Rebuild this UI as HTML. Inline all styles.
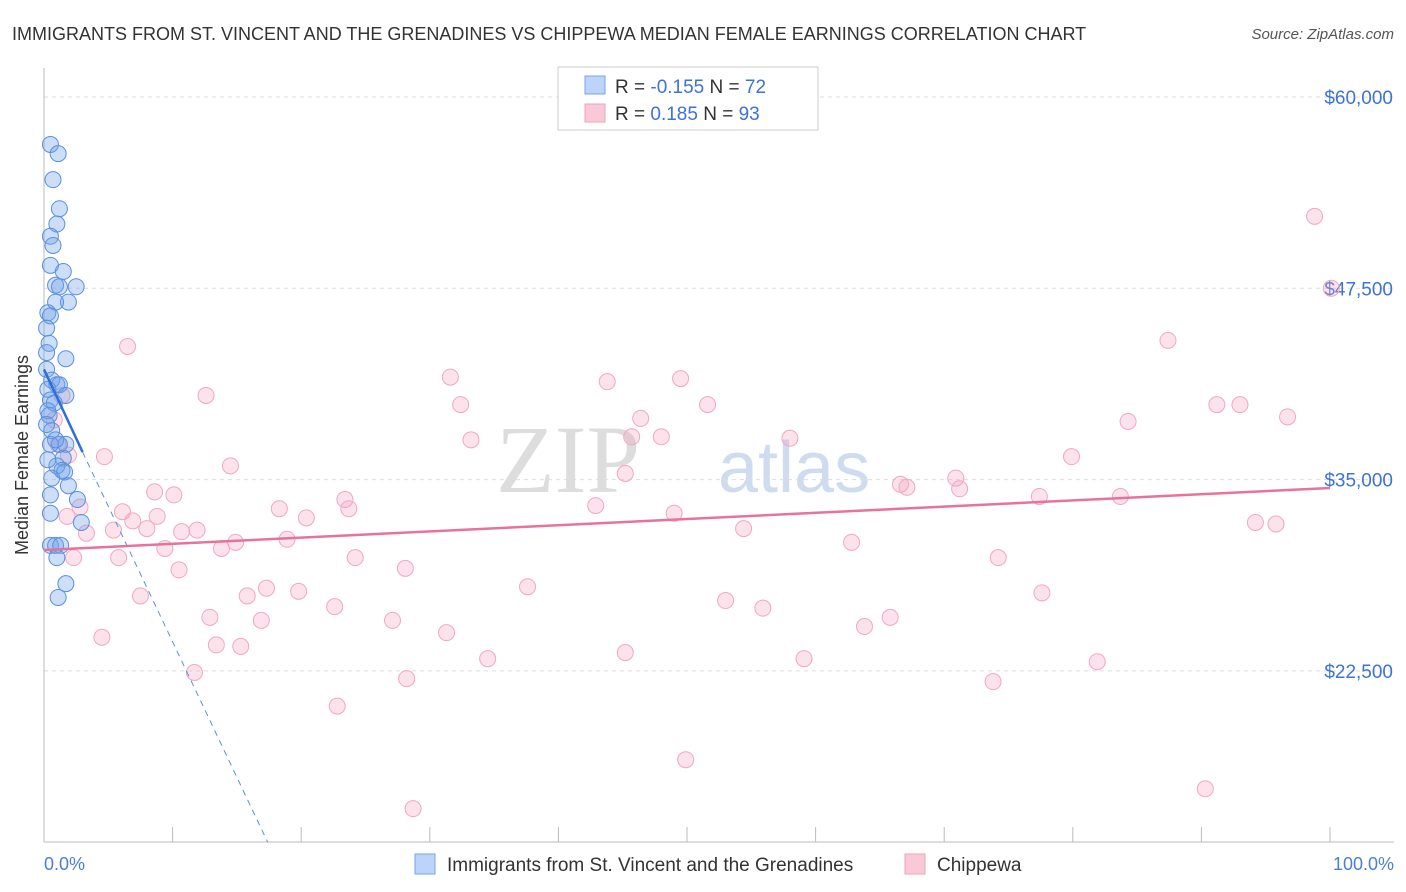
<!DOCTYPE html>
<html><head><meta charset="utf-8"><style>
body{margin:0;background:#fff;font-family:"Liberation Sans",sans-serif;}
svg{display:block}
</style></head><body>
<svg width="1406" height="892" viewBox="0 0 1406 892">
<text x="12" y="40" font-size="18" fill="#333">IMMIGRANTS FROM ST. VINCENT AND THE GRENADINES VS CHIPPEWA MEDIAN FEMALE EARNINGS CORRELATION CHART</text>
<text x="1394" y="39" font-size="15" fill="#555" font-style="italic" text-anchor="end">Source: ZipAtlas.com</text>
<text x="640" y="492" font-size="96" fill="#ddd" font-family="Liberation Serif,serif" text-anchor="end">ZIP</text>
<text x="718" y="492" font-size="72" fill="#cfdcef">atlas</text>
<g id="grid"></g>
<line x1="44" y1="68" x2="44" y2="842" stroke="#bbb"/>
<line x1="44" y1="842" x2="1394" y2="842" stroke="#bbb"/>
<g id="xticks"></g>
<text x="28" y="455" font-size="18" fill="#333" text-anchor="middle" transform="rotate(-90 28 455)">Median Female Earnings</text>
<text x="44" y="870" font-size="18" fill="#4a7fd6">0.0%</text>
<text x="1394" y="870" font-size="18" fill="#4a7fd6" text-anchor="end">100.0%</text>
<g id="pink"></g><g id="blue"></g><g id="trends"></g>
<g>
<rect x="558" y="67" width="260" height="63" fill="#fff" stroke="#ccc"/>
<rect x="585" y="76" width="20" height="18" fill="#bcd4f7" stroke="#7aa5e8"/>
<rect x="585" y="104" width="20" height="18" fill="#f9c9d8" stroke="#f0a0bb"/>
<text x="615" y="93" font-size="19" fill="#333">R = <tspan fill="#3b73d6">-0.155</tspan>   N = <tspan fill="#3b73d6">72</tspan></text>
<text x="615" y="120" font-size="19" fill="#333">R =  <tspan fill="#3b73d6"> 0.185</tspan>   N = <tspan fill="#3b73d6">93</tspan></text>
</g>
<g>
<rect x="415" y="854" width="20" height="20" fill="#bcd4f7" stroke="#7aa5e8"/>
<text x="447" y="871" font-size="19" fill="#333">Immigrants from St. Vincent and the Grenadines</text>
<rect x="905" y="854" width="20" height="20" fill="#f9c9d8" stroke="#f0a0bb"/>
<text x="937" y="871" font-size="19" fill="#333">Chippewa</text>
</g>
</svg>
<script>
const yTicks=[60000,47500,35000,22500];
const yTickLabels=["$60,000","$47,500","$35,000","$22,500"];
const xTicks=[0,10,20,30,40,50,60,70,80,90,100];
const blueX=[0.5,1.1,0.7,1.2,1.0,0.5,0.7,0.5,1.5,0.9,1.2,2.5,1.9,0.9,0.3,0.5,0.2,0.4,0.2,1.7,0.2,0.6,1.0,1.2,0.3,1.7,0.5,0.8,0.3,0.4,1.2,1.7,0.5,1.5,1.0,1.4,1.6,1.9,0.6,2.6,0.5,0.5,2.9,0.5,0.9,1.3,1.0,1.7,1.1,0.3,0.6,0.9,0.2];
const blueY=[56900,56300,54600,52700,51700,50900,50300,49000,48600,47700,47600,47600,46600,46600,45900,45700,44900,43900,43300,42900,42200,41500,41200,41200,40900,40500,40200,40000,39500,39200,37300,37300,37300,36400,35900,35600,35500,34600,35100,33700,34000,32800,32200,30700,30700,30700,29900,28200,27300,36300,38200,37600,38600];
const pinkX=[6.5,12.6,4.7,14.5,8.6,10.1,2.8,1.8,6.1,3.3,5.4,6.9,8.0,8.8,10.7,11.9,9.4,13.8,14.9,18.3,20.4,18.9,23.4,23.7,24.2,28.1,5.8,2.3,10.5,7.5,12.9,15.8,17.3,16.9,19.8,22.6,27.1,4.5,11.7,13.4,15.3,22.8,28.2,28.7,31.3,34.5,31.6,32.4,33.2,37.6,42.9,43.8,45.2,46.4,45.7,48.0,49.0,49.5,51.6,54.4,58.0,53.0,55.9,45.2,49.9,59.1,62.8,63.8,65.8,66.6,67.1,70.9,71.2,74.2,73.8,77.4,77.6,79.9,81.9,83.7,84.3,87.4,90.3,91.2,93.0,94.2,95.8,96.7,98.8,100.1,0.8,1.1,1.4,1.9];
const pinkY=[43700,40500,36500,35900,34200,34000,33200,32600,32900,31500,31700,32300,31800,32600,31600,31700,30500,30500,30900,33100,32500,31100,33700,33100,29900,29200,29900,29900,29100,27400,26000,27400,27900,25800,27700,26700,25800,24700,22400,24200,24100,20200,22000,13500,25000,23300,41700,39900,37600,28000,33300,41400,35400,39000,37800,37800,32800,41600,39900,31800,37700,27100,26600,23700,16700,23300,30900,25400,26000,34700,34500,35100,34400,29900,21800,33900,27600,36500,23100,33900,38800,44100,14800,39900,39900,32200,32100,39100,52200,47500,38900,37300,40500,36600];
const blueTrendX=[0,3.0];const blueTrendY=[42200,36800];
const blueDashX=[3.0,17.4];const blueDashY=[36800,11300];
const pinkTrendX=[0,100];const pinkTrendY=[30400,34450];
const NS="http://www.w3.org/2000/svg";
const xs=p=>44+p*12.86, ys=v=>97+(60000-v)/65.34;
function mk(t,a,parent){const e=document.createElementNS(NS,t);for(const k in a)e.setAttribute(k,a[k]);document.getElementById(parent).appendChild(e);return e;}
yTicks.forEach((v,i)=>{
 const l=mk('line',{x1:44,x2:1394,y1:ys(v),y2:ys(v),stroke:'#ddd','stroke-dasharray':'4,4'},'grid');
 
 
 const t=mk('text',{x:1393,y:ys(v)+7,'font-size':19,fill:'#3b73d6','text-anchor':'end'},'grid');
 t.textContent=yTickLabels[i];
 
 
});
xTicks.forEach(p=>{
 const l=mk('line',{x1:xs(p),x2:xs(p),y1:827,y2:842,stroke:'#bbb'},'xticks');
 
 
});
pinkX.forEach((p,i)=>{
 const c=mk('circle',{cx:xs(p),cy:ys(pinkY[i]),r:8,fill:'rgba(244,160,190,0.3)',stroke:'#f2a7c0','stroke-width':1},'pink');
 
 
});
blueX.forEach((p,i)=>{
 const c=mk('circle',{cx:xs(p),cy:ys(blueY[i]),r:8,fill:'rgba(110,160,235,0.35)',stroke:'#5a90e0','stroke-width':1},'blue');
 
 
});
const bt=mk('line',{x1:xs(blueTrendX[0]),y1:ys(blueTrendY[0]),x2:xs(blueTrendX[1]),y2:ys(blueTrendY[1]),stroke:'#2e6fd8','stroke-width':2.5},'trends');


const bd=mk('line',{x1:xs(blueDashX[0]),y1:ys(blueDashY[0]),x2:xs(blueDashX[1]),y2:ys(blueDashY[1]),stroke:'#5a90e0','stroke-width':1,'stroke-dasharray':'6,5'},'trends');


const pt=mk('line',{x1:xs(pinkTrendX[0]),y1:ys(pinkTrendY[0]),x2:xs(pinkTrendX[1]),y2:ys(pinkTrendY[1]),stroke:'#e8729a','stroke-width':2.5},'trends');


</script>
</body></html>
